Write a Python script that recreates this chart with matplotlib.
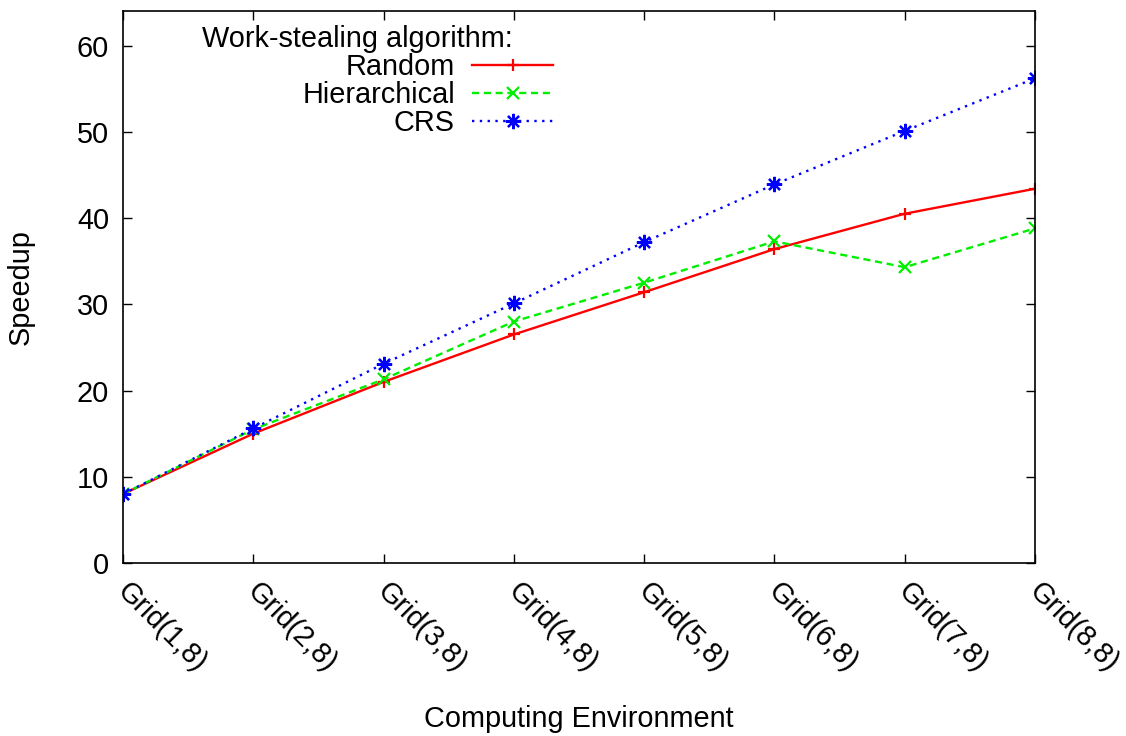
import matplotlib
matplotlib.use("Agg")
import matplotlib.pyplot as plt
from matplotlib.transforms import ScaledTranslation

plt.rcParams['font.family'] = ['Liberation Sans', 'DejaVu Sans']
plt.rcParams['font.size'] = 20.8

# Data
environments = ["Grid(1,8)", "Grid(2,8)", "Grid(3,8)", "Grid(4,8)",
                "Grid(5,8)", "Grid(6,8)", "Grid(7,8)", "Grid(8,8)"]
random_speedup = [8.0, 15.0, 21.0, 26.5, 31.4, 36.4, 40.5, 43.4]
hierarchical_speedup = [8.0, 15.5, 21.3, 28.0, 32.5, 37.3, 34.3, 38.8]
crs_speedup = [8.0, 15.6, 23.1, 30.1, 37.2, 43.9, 50.1, 56.2]
y_ticks = [0, 10, 20, 30, 40, 50, 60]

x = list(range(len(environments)))

fig = plt.figure(figsize=(11.26, 7.36), dpi=100)
ax = fig.add_axes([0.1092, 0.235, 0.81, 0.75])

ax.plot(x, random_speedup, label="Random", color='#ff0000', linestyle='-',
        linewidth=1.7, marker='+', markersize=9, markeredgewidth=1.6)
ax.plot(x, hierarchical_speedup, label="Hierarchical", color='#00ee00', linestyle=(0, (3, 2)),
        linewidth=1.7, marker='x', markersize=9, markeredgewidth=1.6)
ax.plot(x, crs_speedup, label="CRS", color='#0000ff', linestyle=(0, (1, 2.3)),
        linewidth=1.7, marker=(8, 2, 0), markersize=11, markeredgewidth=1.6)

ax.set_xlim(0, len(environments) - 1)
ax.set_ylim(0, 64)
ax.set_yticks(y_ticks)
ax.set_xticks(x)
ax.set_xticklabels(environments, rotation=-45, ha='left', va='top', rotation_mode='anchor')

ax.tick_params(direction='in', length=6.5, width=1, top=True, right=True, pad=10)
ax.tick_params(axis='x', pad=10)
# nudge the rotated labels to the right like gnuplot does
shift = ScaledTranslation(8 / 100, 0, fig.dpi_scale_trans)
for lbl in ax.get_xticklabels():
    lbl.set_transform(lbl.get_transform() + shift)

for s in ax.spines.values():
    s.set_linewidth(1.2)

ax.set_xlabel("Computing Environment")
ax.set_ylabel("Speedup")
ax.xaxis.set_label_coords(0.5, -0.258)
ax.yaxis.set_label_coords(-0.0965, 0.5)

leg = ax.legend(loc='upper right', bbox_to_anchor=(0.4715, 0.975), frameon=False,
                markerfirst=False, title="Work-stealing algorithm:     ",
                alignment='right', handlelength=2.8, handletextpad=0.6,
                labelspacing=0.0, borderpad=0, borderaxespad=0)
leg.get_title().set_fontsize(20.8)

plt.savefig("out.png", dpi=100)
